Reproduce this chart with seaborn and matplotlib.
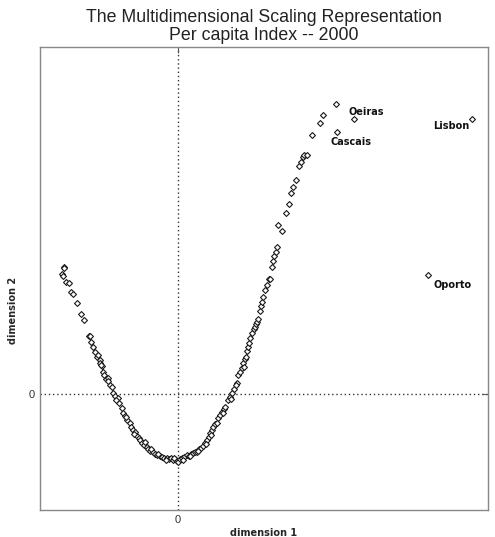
import pandas as pd
import seaborn as sns
import matplotlib.pyplot as plt

# MDS coordinates
dim1 = [
    -1.16, -1.15, -1.14, -1.14, -1.12, -1.09, -1.07, -1.05, -1.01, -0.97,
    -0.94, -0.89, -0.88, -0.87, -0.85, -0.83, -0.81, -0.80, -0.78, -0.78,
    -0.76, -0.75, -0.74, -0.72, -0.70, -0.68, -0.66, -0.65, -0.63, -0.60,
    -0.59, -0.56, -0.55, -0.53, -0.51, -0.48, -0.47, -0.45, -0.43, -0.41,
    -0.39, -0.38, -0.36, -0.34, -0.31, -0.30, -0.28, -0.25, -0.23, -0.21,
    -0.18, -0.16, -0.14, -0.11, -0.09, -0.07, -0.05, -0.03, -0.01, 0.00,
    0.02, 0.04, 0.06, 0.09, 0.11, 0.13, 0.15, 0.17, 0.19, 0.21,
    0.23, 0.25, 0.27, 0.29, 0.31, 0.32, 0.34, 0.35, 0.37, 0.40,
    0.42, 0.44, 0.46, 0.47, 0.50, 0.52, 0.54, 0.56, 0.59, 0.60,
    0.62, 0.64, 0.65, 0.67, 0.68, 0.69, 0.70, 0.71, 0.72, 0.74,
    0.76, 0.77, 0.78, 0.79, 0.80, 0.82, 0.83, 0.84, 0.85, 0.87,
    0.89, 0.91, 0.92, 0.94, 0.95, 0.96, 0.98, 0.99, 1.00, 1.04,
    1.08, 1.11, 1.13, 1.15, 1.18, 1.21, 1.23, 1.25, 1.26, 1.29,
    1.34, 1.42, 1.45, 1.58, 1.59, 1.76, 2.50, 2.94,
    -0.20, -0.12, -0.04, 0.05, 0.12, -0.27, 0.20, -0.33, 0.28, -0.44,
    0.33, -0.52, 0.39, -0.62, 0.45, -0.70, 0.53, -0.77, 0.58, 0.66,
]
dim2 = [
    1.20, 1.18, 1.27, 1.26, 1.12, 1.11, 1.02, 1.00, 0.91, 0.80,
    0.74, 0.58, 0.58, 0.52, 0.47, 0.42, 0.37, 0.39, 0.34, 0.31,
    0.28, 0.22, 0.19, 0.15, 0.16, 0.09, 0.07, 0.01, -0.02, -0.04,
    -0.09, -0.14, -0.19, -0.22, -0.26, -0.29, -0.33, -0.36, -0.38, -0.42,
    -0.44, -0.46, -0.49, -0.51, -0.53, -0.55, -0.57, -0.58, -0.60, -0.61,
    -0.62, -0.63, -0.64, -0.64, -0.65, -0.64, -0.66, -0.65, -0.67, -0.68,
    -0.65, -0.64, -0.63, -0.61, -0.62, -0.60, -0.59, -0.58, -0.58, -0.55,
    -0.54, -0.52, -0.49, -0.46, -0.43, -0.39, -0.36, -0.33, -0.30, -0.24,
    -0.21, -0.18, -0.15, -0.13, -0.06, -0.03, 0.01, 0.05, 0.11, 0.19,
    0.22, 0.26, 0.31, 0.35, 0.37, 0.43, 0.47, 0.51, 0.56, 0.61,
    0.65, 0.67, 0.70, 0.72, 0.75, 0.83, 0.88, 0.92, 0.97, 1.04,
    1.09, 1.15, 1.15, 1.27, 1.33, 1.38, 1.42, 1.47, 1.69, 1.63,
    1.81, 1.90, 2.01, 2.07, 2.14, 2.28, 2.32, 2.37, 2.39, 2.39,
    2.59, 2.71, 2.79, 2.90, 2.62, 2.75, 1.19, 2.75,
    -0.60, -0.66, -0.64, -0.66, -0.62, -0.55, -0.57, -0.48, -0.50, -0.40,
    -0.41, -0.23, -0.29, -0.06, -0.19, 0.13, -0.05, 0.29, 0.09, 0.27,
]

# labelled municipalities: index into the arrays, text offset in points
labels = ["Oeiras", "Cascais", "Lisbon", "Oporto"]
label_idx = [135, 134, 137, 136]
label_off = [(-4, 5), (-5, -7), (-28, -5), (4, -7)]

df = pd.DataFrame({"dim1": dim1, "dim2": dim2})

sns.set_style("white")
plt.rcParams["font.family"] = ["Liberation Sans", "DejaVu Sans"]

fig = plt.figure(figsize=(4.95, 5.37), dpi=100)
ax = fig.add_axes([40 / 495, 27 / 537, 448 / 495, 463 / 537])

sns.scatterplot(data=df, x="dim1", y="dim2", ax=ax, marker="D", s=9,
                facecolor="white", edgecolor="#1a1a1a", linewidth=0.8)

ax.axvline(0, color="#333333", linestyle=(0, (1, 2)), linewidth=1, zorder=0)
ax.axhline(0, color="#333333", linestyle=(0, (1, 2)), linewidth=1, zorder=0)

for name, i, off in zip(labels, label_idx, label_off):
    ax.annotate(name, (dim1[i], dim2[i]), xytext=off, textcoords="offset points",
                fontsize=7, fontweight="bold", family="DejaVu Sans",
                ha="left", va="center", color="#111111")

ax.set_xlim(-1.38, 3.10)
ax.set_ylim(-1.16, 3.47)
ax.set_xticks([0])
ax.set_yticks([0])
ax.tick_params(direction="in", length=4, labelsize=8, colors="#555555",
               top=True, right=True, labelcolor="#333333")
for sp in ax.spines.values():
    sp.set_color("#888888")
    sp.set_linewidth(1)

ax.set_xlabel("dimension 1", fontsize=7, fontweight="bold",
              family="DejaVu Sans", labelpad=2)
ax.set_ylabel("dimension 2", fontsize=7, fontweight="bold",
              family="DejaVu Sans")
ax.yaxis.set_label_coords(-0.05, 0.43)
ax.set_title("The Multidimensional Scaling Representation\nPer capita Index -- 2000",
             fontsize=12.8, linespacing=1.1, pad=5, color="#222222")

fig.savefig("out.png", dpi=100)
